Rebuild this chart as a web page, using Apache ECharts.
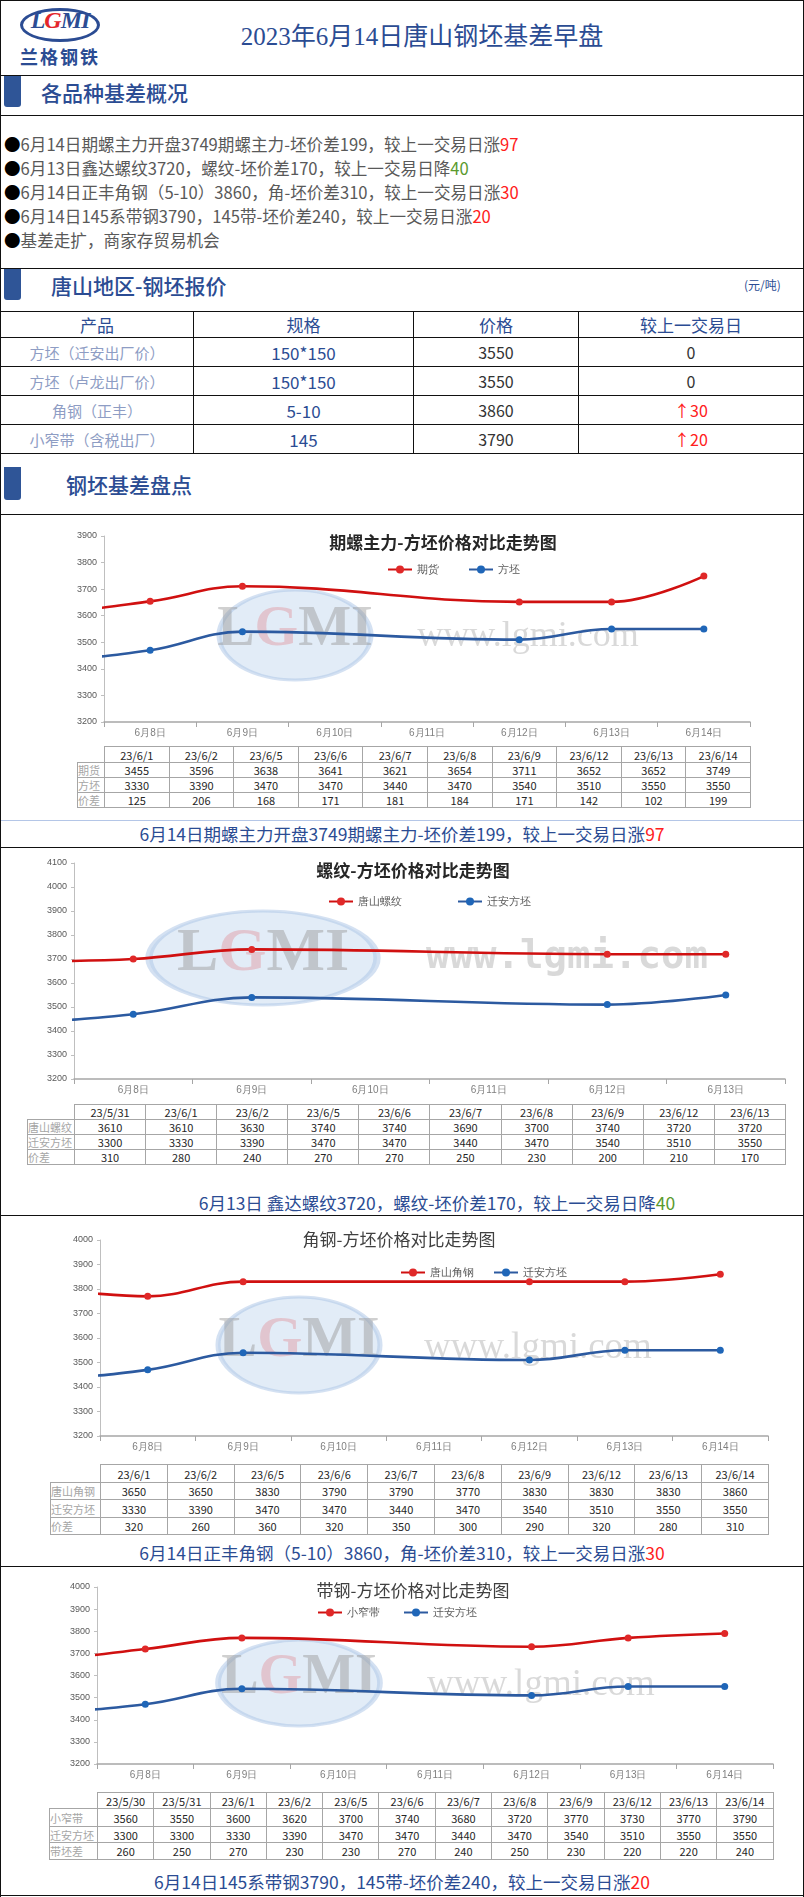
<!DOCTYPE html>
<html>
<head>
<meta charset="UTF-8">
<title>2023年6月14日唐山钢坯基差早盘</title>
<script src="https://cdn.jsdelivr.net/npm/echarts@6.0.0/dist/echarts.min.js"></script>
<style>
  body{margin:0;background:#fff;font-family:"Noto Sans CJK SC","Noto Sans",sans-serif;}
  #page{position:relative;width:804px;height:1897px;overflow:hidden;background:#fff;}
  .abs{position:absolute;}
  .hl{position:absolute;left:0;width:804px;height:1px;background:#111;}
  .vl{position:absolute;top:0;width:1px;height:1897px;background:#111;}
  .bar{position:absolute;left:4px;width:17px;background:#2F5597;border-radius:0 0 3px 3px;}
  .sec{position:absolute;color:#2B4C93;font-size:21px;line-height:30px;white-space:nowrap;font-weight:500;}
  #bullets{position:absolute;left:4px;top:132px;font-size:16.6px;line-height:24px;color:#595959;white-space:nowrap;}
  #bullets b{font-weight:normal;color:#000;}
  .up{color:#FF2020;} .down{color:#5A9A2E;}
  #quote{position:absolute;left:0;top:311px;border-collapse:collapse;table-layout:fixed;}
  #quote td{border:1px solid #111;text-align:center;padding:0;font-size:16px;color:#333;}
  #quote tr.h td{color:#2B4C93;font-size:17px;}
  #quote td.p{color:#8E9DC4;font-size:15px;}
  #quote td.s{color:#2B4C93;font-size:17px;}
  .dt{position:absolute;border-collapse:collapse;table-layout:fixed;font-size:11px;color:#262626;}
  .dt td{border:1px solid #A6A6A6;padding:0;text-align:center;line-height:12px;overflow:hidden;white-space:nowrap;}
  .dt td.corner{border-top:none;border-left:none;}
  .dt td.rl{text-align:left;color:#A6A6A6;font-size:11px;}
  .cap{position:absolute;left:0;width:804px;text-align:center;font-size:17.5px;line-height:24px;color:#2B4C93;white-space:nowrap;}
  .chart{position:absolute;left:0;width:804px;}
</style>
</head>
<body>
<div id="page">
  <!-- 页头 -->
  <div class="abs" style="left:20px;top:8px;width:80px;height:34px;border:3px solid #2B4C93;border-radius:50%;box-sizing:border-box;"></div>
  <div class="abs" style="left:20px;top:7px;width:80px;text-align:center;font:italic bold 24px 'Liberation Serif';color:#2B4C93;letter-spacing:-1px;">L<span style="color:#E3262B">G</span>MI</div>
  <div class="abs" style="left:20px;top:43px;width:84px;font:bold 18px 'Noto Sans CJK SC';color:#2B4C93;letter-spacing:2px;">兰格钢铁</div>
  <div class="abs" style="left:122px;width:600px;top:20px;text-align:center;font-size:25px;line-height:34px;color:#2B4C93;font-family:'Liberation Serif','Noto Sans CJK SC';">2023年6月14日唐山钢坯基差早盘</div>

  <div class="hl" style="top:0"></div>
  <div class="hl" style="top:75px"></div>
  <div class="bar" style="top:76px;height:31px"></div>
  <div class="sec" style="left:41px;top:77px">各品种基差概况</div>
  <div class="hl" style="top:115px"></div>
  <div id="bullets"></div>
  <div class="hl" style="top:268px"></div>
  <div class="bar" style="top:269px;height:31px"></div>
  <div class="sec" style="left:51px;top:270px">唐山地区-钢坯报价</div>
  <div class="abs" style="left:744px;top:276px;font-size:12px;color:#2B4C93;">(元/吨)</div>
  <table id="quote"></table>
  <div class="bar" style="top:467px;height:33px"></div>
  <div class="sec" style="left:66px;top:469px">钢坯基差盘点</div>
  <div class="hl" style="top:514px"></div>
  <div class="chart" id="c1" style="top:514px;height:232px"></div>
  <div class="hl" style="top:820px;background:#B4C6E7"></div>
  <div class="cap" id="cap1" style="top:822px"></div>
  <div class="hl" style="top:847px"></div>
  <div class="chart" id="c2" style="top:848px;height:256px"></div>
  <div class="cap" id="cap2" style="top:1191px;padding-left:70px;box-sizing:border-box"></div>
  <div class="hl" style="top:1215px"></div>
  <div class="chart" id="c3" style="top:1217px;height:247px"></div>
  <div class="cap" id="cap3" style="top:1541px"></div>
  <div class="hl" style="top:1566px"></div>
  <div class="chart" id="c4" style="top:1566px;height:226px"></div>
  <div class="cap" id="cap4" style="top:1870px"></div>
  <div class="hl" style="top:1895px"></div>
  <div class="vl" style="left:0"></div>
  <div class="vl" style="left:803px"></div>
</div>
<script type="text/javascript">
    // 概况
    var summaryText = [
        '6月14日期螺主力开盘3749期螺主力-坯价差199，较上一交易日涨',
        '6月13日鑫达螺纹3720，螺纹-坯价差170，较上一交易日降',
        '6月14日正丰角钢（5-10）3860，角-坯价差310，较上一交易日涨',
        '6月14日145系带钢3790，145带-坯价差240，较上一交易日涨',
        '基差走扩，商家存贸易机会'
    ];
    var summaryChange = ['97', '40', '30', '20', ''];
    var summaryDir = ['up', 'down', 'up', 'up', ''];

    // 报价表
    var quoteHead = ['产品', '规格', '价格', '较上一交易日'];
    var quoteProducts = ['方坯（迁安出厂价）', '方坯（卢龙出厂价）', '角钢（正丰）', '小窄带（含税出厂）'];
    var quoteSpecs = ['150*150', '150*150', '5-10', '145'];
    var quotePrices = [3550, 3550, 3860, 3790];
    var quoteChanges = [0, 0, 30, 20];

    // 图1 期螺主力-方坯
    var c1Dates = ['23/6/1', '23/6/2', '23/6/5', '23/6/6', '23/6/7', '23/6/8', '23/6/9', '23/6/12', '23/6/13', '23/6/14'];
    var c1Fut = [3455, 3596, 3638, 3641, 3621, 3654, 3711, 3652, 3652, 3749];
    var c1Billet = [3330, 3390, 3470, 3470, 3440, 3470, 3540, 3510, 3550, 3550];
    var c1Diff = [125, 206, 168, 171, 181, 184, 171, 142, 102, 199];

    // 图2 螺纹-方坯
    var c2Dates = ['23/5/31', '23/6/1', '23/6/2', '23/6/5', '23/6/6', '23/6/7', '23/6/8', '23/6/9', '23/6/12', '23/6/13'];
    var c2Rebar = [3610, 3610, 3630, 3740, 3740, 3690, 3700, 3740, 3720, 3720];
    var c2Billet = [3300, 3330, 3390, 3470, 3470, 3440, 3470, 3540, 3510, 3550];
    var c2Diff = [310, 280, 240, 270, 270, 250, 230, 200, 210, 170];

    // 图3 角钢-方坯
    var c3Dates = ['23/6/1', '23/6/2', '23/6/5', '23/6/6', '23/6/7', '23/6/8', '23/6/9', '23/6/12', '23/6/13', '23/6/14'];
    var c3Angle = [3650, 3650, 3830, 3790, 3790, 3770, 3830, 3830, 3830, 3860];
    var c3Billet = [3330, 3390, 3470, 3470, 3440, 3470, 3540, 3510, 3550, 3550];
    var c3Diff = [320, 260, 360, 320, 350, 300, 290, 320, 280, 310];

    // 图4 带钢-方坯
    var c4Dates = ['23/5/30', '23/5/31', '23/6/1', '23/6/2', '23/6/5', '23/6/6', '23/6/7', '23/6/8', '23/6/9', '23/6/12', '23/6/13', '23/6/14'];
    var c4Strip = [3560, 3550, 3600, 3620, 3700, 3740, 3680, 3720, 3770, 3730, 3770, 3790];
    var c4Billet = [3300, 3300, 3330, 3390, 3470, 3470, 3440, 3470, 3540, 3510, 3550, 3550];
    var c4Diff = [260, 250, 270, 230, 230, 270, 240, 250, 230, 220, 220, 240];

    var axisTo14 = ['6月8日', '6月9日', '6月10日', '6月11日', '6月12日', '6月13日', '6月14日'];
    var axisTo13 = ['6月8日', '6月9日', '6月10日', '6月11日', '6月12日', '6月13日'];
    var yTicks14 = [3200, 3900];
    var yTicks41 = [3200, 4100];
    var yTicks40 = [3200, 4000];

    var captions = [
        ['6月14日期螺主力开盘3749期螺主力-坯价差199，较上一交易日涨', '97', 'up'],
        ['6月13日 鑫达螺纹3720，螺纹-坯价差170，较上一交易日降', '40', 'down'],
        ['6月14日正丰角钢（5-10）3860，角-坯价差310，较上一交易日涨', '30', 'up'],
        ['6月14日145系带钢3790，145带-坯价差240，较上一交易日涨', '20', 'up']
    ];

    var page = document.getElementById('page');

    // 概况文字
    var bh = '';
    for (var i = 0; i < summaryText.length; i++) {
        bh += '<div><b>●</b>' + summaryText[i] + '<span class="' + summaryDir[i] + '">' + summaryChange[i] + '</span></div>';
    }
    document.getElementById('bullets').innerHTML = bh;

    // 报价表
    var qw = [193, 220, 165, 225], qh = [25, 29, 29, 29, 29];
    var qt = '<colgroup>' + qw.map(function (w) { return '<col style="width:' + w + 'px">'; }).join('') + '</colgroup>';
    qt += '<tr class="h" style="height:' + qh[0] + 'px">' + quoteHead.map(function (h) { return '<td>' + h + '</td>'; }).join('') + '</tr>';
    for (var r = 0; r < quoteProducts.length; r++) {
        var ch = quoteChanges[r] > 0 ? '<span class="up">↑' + quoteChanges[r] + '</span>' : quoteChanges[r];
        qt += '<tr style="height:' + qh[r + 1] + 'px"><td class="p">' + quoteProducts[r] + '</td><td class="s">' + quoteSpecs[r] +
            '</td><td>' + quotePrices[r] + '</td><td>' + ch + '</td></tr>';
    }
    var quote = document.getElementById('quote');
    quote.style.width = qw.reduce(function (a, b) { return a + b; }) + 'px';
    quote.innerHTML = qt;

    // 标注
    for (var k = 0; k < captions.length; k++) {
        document.getElementById('cap' + (k + 1)).innerHTML = captions[k][0] + '<span class="' + captions[k][2] + '">' + captions[k][1] + '</span>';
    }

    function dayNum(s) {
        var p = s.split('/');
        var d = new Date(2000 + (+p[0]), +p[1] - 1, +p[2]);
        return Math.round((d - new Date(2023, 5, 0)) / 86400000);
    }

    function buildTable(T, dates, rowNames, rowsVals) {
        var w = T.labelW + dates.length * T.colW;
        var html = '<table class="dt" style="left:' + T.left + 'px;top:' + T.top + 'px;width:' + w + 'px">';
        html += '<colgroup><col style="width:' + T.labelW + 'px">' + dates.map(function () { return '<col style="width:' + T.colW + 'px">'; }).join('') + '</colgroup>';
        html += '<tr style="height:' + T.rowH[0] + 'px"><td class="corner"></td>' + dates.map(function (d) { return '<td>' + d + '</td>'; }).join('') + '</tr>';
        for (var r = 0; r < rowNames.length; r++) {
            html += '<tr style="height:' + T.rowH[r + 1] + 'px"><td class="rl">' + rowNames[r] + '</td>' +
                rowsVals[r].map(function (v) { return '<td>' + v + '</td>'; }).join('') + '</tr>';
        }
        html += '</table>';
        page.insertAdjacentHTML('beforeend', html);
    }

    function watermark(W) {
        return [
            {type: 'circle', x: W.cx, y: W.cy, scaleX: W.rx / W.ry, silent: true, z: 0,
                shape: {cx: 0, cy: 0, r: W.ry},
                style: {fill: 'rgba(190,212,238,0.45)', stroke: 'rgba(170,196,230,0.5)', lineWidth: 3}},
            {type: 'text', x: W.cx, y: W.cy - 4, silent: true, z: 0,
                style: {text: '{a|L}{b|G}{a|MI}', textAlign: 'center', textVerticalAlign: 'middle',
                    rich: {a: {fontSize: W.lf, fontWeight: 'bold', fontFamily: 'Liberation Serif', fill: 'rgba(150,150,150,0.45)'},
                        b: {fontSize: W.lf, fontWeight: 'bold', fontFamily: 'Liberation Serif', fill: 'rgba(225,150,160,0.45)'}}}},
            {type: 'text', x: W.wx, y: W.wy, silent: true, z: 0,
                style: {text: 'www.lgmi.com', textAlign: 'center', textVerticalAlign: 'middle',
                    font: W.wfont, fill: 'rgba(160,160,160,0.4)'}}
        ];
    }

    function drawChart(C) {
        var L = C.L;
        var chart = echarts.init(document.getElementById(C.el));
        var red = '#D01010', blue = '#2C5AA0';
        var option = {
            animation: false,
            title: {
                text: C.title, left: L.titleX, top: L.titleTop, textAlign: 'center',
                textStyle: {fontSize: 17, fontWeight: C.bold ? 'bold' : 'normal', color: C.bold ? '#262626' : '#404040',
                    fontFamily: 'Noto Sans CJK SC'}
            },
            legend: {
                data: C.names, left: L.legendX, top: L.legendTop, itemWidth: 24, itemHeight: 10, itemGap: L.legendGap,
                textStyle: {fontSize: 11, color: '#595959'}
            },
            grid: {left: L.grid[0], top: L.grid[1], width: L.grid[2], height: L.grid[3]},
            xAxis: [
                {
                    type: 'category', data: C.axis, boundaryGap: true,
                    axisLine: {lineStyle: {color: '#A6A6A6', width: 1.5}},
                    axisTick: {show: true, alignWithLabel: false, interval: 0, length: 5, lineStyle: {color: '#A6A6A6'}},
                    axisLabel: {color: '#7F7F7F', fontSize: 10, margin: 6, interval: 0}
                },
                {type: 'value', min: 7.5, max: 7.5 + C.axis.length, show: false}
            ],
            yAxis: {
                type: 'value', min: C.yRange[0], max: C.yRange[1], interval: 100,
                splitLine: {show: false},
                axisLine: {show: true, lineStyle: {color: '#BFBFBF'}},
                axisTick: {show: true, length: 3, lineStyle: {color: '#BFBFBF'}},
                axisLabel: {fontSize: 9, color: '#595959', margin: 7, fontFamily: 'Liberation Sans',
                    formatter: function (v) { return String(v); }}
            },
            graphic: watermark(L.wm),
            series: [
                {
                    name: C.names[0], type: 'line', xAxisIndex: 1, smooth: 0.4, symbol: 'circle', symbolSize: 7, z: 3,
                    data: C.dates.map(function (d, i) { return [dayNum(d), C.a[i]]; }),
                    lineStyle: {width: 2.6, color: red}, itemStyle: {color: '#E02828'}
                },
                {
                    name: C.names[1], type: 'line', xAxisIndex: 1, smooth: 0.4, symbol: 'circle', symbolSize: 7, z: 3,
                    data: C.dates.map(function (d, i) { return [dayNum(d), C.b[i]]; }),
                    lineStyle: {width: 2.6, color: blue}, itemStyle: {color: '#1F66B8'}
                }
            ]
        };
        chart.setOption(option);
        buildTable(L.table, C.dates, C.rowNames, [C.a, C.b, C.diff]);
    }

    var chartList = [
        {
            el: 'c1', title: '期螺主力-方坯价格对比走势图', bold: true, names: ['期货', '方坯'],
            dates: c1Dates, a: c1Fut, b: c1Billet, diff: c1Diff, axis: axisTo14, yRange: yTicks14,
            rowNames: ['期货', '方坯', '价差'],
            L: {
                grid: [104, 22, 646, 186], titleX: 438, titleTop: 15, legendX: 382, legendTop: 45, legendGap: 29,
                wm: {cx: 295, cy: 121, rx: 76, ry: 45, lf: 56, wx: 528, wy: 123, wfont: '36px "Liberation Serif"'},
                table: {left: 77, top: 746, labelW: 27, colW: 64.6, rowH: [16, 15, 15, 15]}
            }
        },
        {
            el: 'c2', title: '螺纹-方坯价格对比走势图', bold: true, names: ['唐山螺纹', '迁安方坯'],
            dates: c2Dates, a: c2Rebar, b: c2Billet, diff: c2Diff, axis: axisTo13, yRange: yTicks41,
            rowNames: ['唐山螺纹', '迁安方坯', '价差'],
            L: {
                grid: [74, 15, 711, 216], titleX: 408, titleTop: 9, legendX: 323, legendTop: 43, legendGap: 55,
                wm: {cx: 263, cy: 110, rx: 114, ry: 47, lf: 62, wx: 567, wy: 110, wfont: 'bold 39px "DejaVu Sans Mono"'},
                table: {left: 27, top: 1104, labelW: 47, colW: 71.1, rowH: [15, 15, 15, 15]}
            }
        },
        {
            el: 'c3', title: '角钢-方坯价格对比走势图', bold: false, names: ['唐山角钢', '迁安方坯'],
            dates: c3Dates, a: c3Angle, b: c3Billet, diff: c3Diff, axis: axisTo14, yRange: yTicks40,
            rowNames: ['唐山角钢', '迁安方坯', '价差'],
            L: {
                grid: [100, 23, 668, 196], titleX: 394, titleTop: 9, legendX: 395, legendTop: 45, legendGap: 19,
                wm: {cx: 299, cy: 128, rx: 81, ry: 48, lf: 58, wx: 538, wy: 131, wfont: '37px "Liberation Serif"'},
                table: {left: 50, top: 1464, labelW: 50, colW: 66.8, rowH: [18, 17, 18, 17]}
            }
        },
        {
            el: 'c4', title: '带钢-方坯价格对比走势图', bold: false, names: ['小窄带', '迁安方坯'],
            dates: c4Dates, a: c4Strip, b: c4Billet, diff: c4Diff, axis: axisTo14, yRange: yTicks40,
            rowNames: ['小窄带', '迁安方坯', '带坯差'],
            L: {
                grid: [97, 21, 676, 177], titleX: 408, titleTop: 11, legendX: 312, legendTop: 36, legendGap: 23,
                wm: {cx: 299, cy: 117, rx: 81, ry: 43, lf: 56, wx: 541, wy: 119, wfont: '37px "Liberation Serif"'},
                table: {left: 49, top: 1792, labelW: 48, colW: 56.3, rowH: [16, 18, 16, 17]}
            }
        }
    ];

    chartList.forEach(drawChart);
</script>
</body>
</html>
